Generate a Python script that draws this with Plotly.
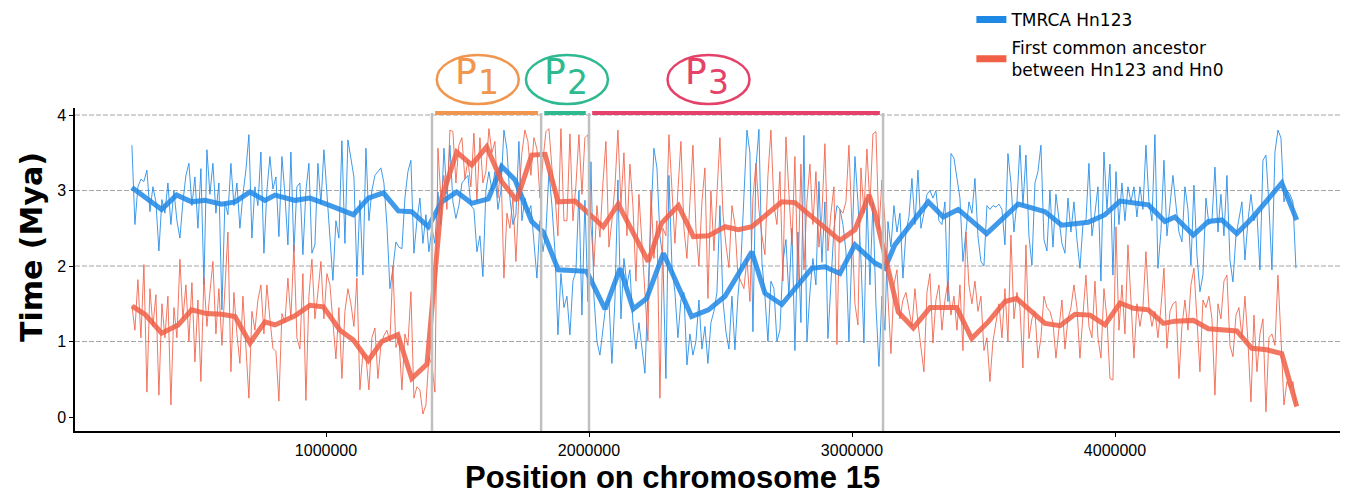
import numpy as np
import plotly.graph_objects as go

# ---------------- data ----------------
WIN_START = 262000
WIN_END = 4688000

blue_seg1 = [3.60, 2.55, 3.05, 3.15, 3.12, 3.27, 2.72, 3.05, 2.85, 2.20, 2.88, 2.70, 3.10, 2.55, 3.00,
             2.60, 2.37, 2.85, 3.20, 3.36, 2.80, 3.18, 2.50, 3.29, 1.75, 3.54, 2.95, 3.36, 2.70, 3.10,
             1.42, 2.85, 2.68, 3.36, 2.80, 3.10, 2.50, 2.95, 3.27, 3.74, 2.37, 3.05, 2.80, 3.51, 2.17,
             3.00, 3.45, 3.02]
blue_seg2 = [3.18, 2.39, 3.45, 2.95, 2.28, 3.51, 2.19, 3.05, 3.10, 2.15, 3.00, 3.36, 2.17, 2.28, 3.36,
             2.82, 3.54, 2.95, 2.32, 1.81, 2.60, 2.37, 3.66, 2.30, 3.67, 3.40, 3.18, 1.86, 2.87, 1.88,
             3.56, 2.60, 3.00, 3.20, 3.25, 3.30, 3.10, 2.55, 1.70, 1.97, 2.32, 2.25, 2.23, 2.90, 3.25,
             3.40, 2.17, 2.60, 2.90, 2.30]
blue_seg3 = [2.68, 2.19, 2.50, 2.30, 2.98, 2.55, 3.56, 2.95, 3.60, 2.85, 2.63, 2.80, 3.10, 3.15, 3.20,
             2.80, 2.75, 2.19, 2.40, 1.86, 3.00, 3.25, 3.00, 3.25, 2.75, 3.00, 3.80, 3.55, 2.90, 2.55,
             2.68, 3.65, 2.60, 2.90, 2.70, 2.80, 2.35, 1.84, 2.60, 2.19, 2.45, 3.25, 2.80, 2.20, 1.09,
             1.90, 1.45, 1.60, 1.09, 1.80]
blue_seg4 = [1.93, 3.00, 1.35, 2.87, 1.53, 3.38, 1.60, 1.00, 0.82, 1.20, 1.50, 1.55, 0.71, 1.55, 3.14,
             1.30, 2.10, 1.75, 1.95, 1.25, 0.90, 1.25, 0.95, 0.58, 1.65, 2.60, 3.56, 3.30, 2.40, 2.10,
             0.51, 3.20, 2.00, 1.65, 1.05, 1.55, 1.65, 0.69, 1.10, 0.82, 1.00, 1.55, 0.90, 1.20, 0.71,
             1.25, 1.40, 1.65, 2.80, 1.55]
blue_seg5 = [1.13, 0.90, 1.60, 0.89, 1.60, 2.05, 2.95, 3.80, 3.50, 1.13, 3.30, 3.81, 2.05, 1.60, 1.00,
             1.80, 1.70, 1.00, 1.15, 2.05, 2.35, 1.60, 2.50, 0.88, 2.45, 1.25, 3.73, 1.00, 1.65, 2.10,
             1.75, 3.12, 2.05, 2.85, 1.04, 1.75, 2.50, 2.80, 2.75, 2.55, 2.20, 1.00, 2.25, 3.45, 2.85,
             2.10, 0.98, 2.90, 1.75, 2.85]
blue_seg6 = [1.48, 0.67, 1.60, 1.15, 2.59, 2.25, 2.80, 2.45, 2.70, 1.84, 2.45, 2.65, 3.16, 2.55, 3.27,
             2.50, 2.70, 2.95, 3.00, 2.90, 3.00, 2.60, 2.55, 2.85, 1.53, 3.49, 3.43, 3.15, 2.90, 2.06,
             2.45, 2.85, 2.70, 3.16, 2.40, 2.06, 2.00, 2.80, 2.75, 2.80, 2.78, 2.82, 2.75, 2.28, 3.49,
             3.10, 2.45, 2.85, 3.60, 2.80]
blue_seg7 = [3.47, 2.40, 2.01, 3.10, 3.25, 3.60, 2.35, 2.20, 3.00, 2.25, 2.95, 2.65, 2.30, 2.17, 2.90,
             2.45, 2.85, 2.35, 1.97, 2.55, 2.60, 3.36, 2.40, 2.70, 3.05, 1.80, 3.51, 2.75, 3.35, 1.88,
             3.25, 2.55, 3.10, 2.60, 3.05, 2.85, 3.05, 2.65, 3.05, 2.75, 3.60, 2.85, 2.60, 3.74, 1.97,
             2.45, 3.40, 2.40, 2.85, 3.20]
blue_seg8 = [2.81, 2.45, 2.32, 3.05, 2.75, 2.01, 3.07, 2.15, 1.66, 1.88, 2.90, 2.55, 2.60, 3.31, 2.45,
             2.95, 2.40, 3.20, 2.08, 1.79, 2.40, 2.60, 2.85, 2.08, 2.60, 2.95, 2.60, 2.70, 1.95, 3.40,
             3.47, 2.80, 1.95, 3.51, 3.80, 3.70, 2.85, 3.00, 2.95, 2.85, 1.97]

red_seg1 = [1.48, 1.15, 1.82, 1.05, 2.02, 0.33, 1.70, 1.20, 1.62, 0.29, 1.50, 1.05, 1.60, 0.16, 1.45,
            1.05, 2.09, 1.30, 1.75, 1.00, 1.78, 0.73, 1.55, 0.47, 1.85, 1.20, 1.65, 2.06, 1.10, 1.70,
            0.95, 1.80, 2.45, 0.60, 1.65, 1.10, 0.71, 1.60, 1.00, 0.25, 1.40, 1.15, 1.55, 1.75, 1.10,
            1.75, 1.30, 0.91]
red_seg2 = [0.87, 0.21, 1.37, 1.25, 1.84, 1.30, 2.28, 1.05, 0.90, 1.90, 0.22, 1.60, 2.09, 1.30, 1.65,
            2.06, 1.30, 1.90, 1.75, 1.20, 0.77, 1.45, 0.51, 1.40, 1.70, 1.50, 1.20, 1.84, 0.36, 0.85,
            0.80, 0.36, 1.05, 1.18, 0.51, 0.95, 1.08, 1.15, 1.00, 2.00, 0.92, 1.05, 0.36, 1.10, 0.95,
            1.66, 0.25, 0.40, 0.36, 0.04]
red_seg3 = [0.16, 0.80, 0.69, 0.33, 3.56, 2.90, 3.20, 2.75, 3.80, 3.78, 3.10, 3.60, 3.70, 3.15, 3.40,
            3.05, 3.76, 2.85, 3.70, 3.10, 3.25, 3.82, 3.50, 3.65, 2.90, 3.35, 1.84, 2.70, 2.50, 2.90,
            2.06, 2.95, 3.50, 3.80, 3.65, 3.20, 3.70, 3.55, 2.90, 3.40, 3.78, 3.82, 3.30, 2.95, 2.40,
            3.82, 2.60, 2.60, 3.75, 2.60]
red_seg4 = [3.07, 3.74, 2.95, 3.70, 3.74, 2.54, 2.00, 2.80, 2.38, 3.10, 3.65, 2.25, 2.60, 3.05, 3.80,
            2.80, 3.50, 2.40, 3.35, 2.80, 1.80, 2.95, 2.30, 1.57, 1.00, 3.00, 2.10, 2.60, 0.25, 2.50,
            2.40, 3.74, 3.00, 2.30, 3.00, 3.65, 2.50, 2.10, 2.85, 3.60, 2.50, 2.00, 2.85, 3.30, 1.57,
            3.00, 2.20, 2.95, 3.70, 2.70]
red_seg5 = [2.28, 1.98, 2.80, 2.55, 1.88, 1.80, 1.70, 2.10, 1.53, 2.90, 3.36, 2.75, 2.40, 2.15, 3.20,
            3.80, 2.80, 2.55, 3.25, 1.80, 3.71, 2.95, 2.28, 3.45, 1.80, 3.35, 1.95, 2.85, 3.35, 2.55,
            3.25, 2.25, 2.70, 3.62, 2.20, 2.70, 3.05, 0.96, 2.75, 2.70, 2.85, 3.60, 2.40, 1.50, 1.22,
            3.30, 2.70, 3.55, 2.80, 3.75]
red_seg6 = [3.78, 2.48, 3.14, 2.60, 1.60, 0.84, 1.75, 1.95, 1.30, 1.55, 1.65, 1.45, 1.20, 1.70, 1.25,
            0.92, 0.60, 1.65, 1.90, 0.98, 1.55, 1.75, 1.15, 1.55, 1.80, 1.35, 1.60, 1.15, 1.75, 0.88,
            2.45, 1.75, 1.50, 1.80, 1.40, 1.60, 0.88, 1.05, 0.47, 1.00, 1.25, 1.50, 1.05, 1.70, 1.00,
            2.41, 1.30, 1.65, 1.45, 0.65]
red_seg7 = [2.28, 1.04, 1.30, 1.40, 0.78, 1.05, 1.60, 1.45, 1.40, 1.25, 0.78, 1.15, 1.55, 0.90, 1.30,
            1.45, 1.75, 1.45, 0.78, 1.35, 1.88, 1.20, 1.05, 1.80, 1.05, 0.78, 1.70, 1.30, 0.51, 0.49,
            2.52, 1.15, 1.75, 1.10, 2.28, 1.55, 0.78, 1.50, 1.20, 1.45, 2.19, 1.45, 1.20, 1.40, 1.05,
            1.45, 1.97, 0.91, 1.40, 1.50]
red_seg8 = [1.53, 0.51, 1.20, 1.55, 1.15, 1.75, 1.97, 1.30, 0.60, 1.55, 1.45, 1.60, 1.30, 0.29, 1.50,
            1.30, 1.80, 1.88, 0.95, 0.80, 1.35, 1.45, 1.05, 1.60, 1.00, 0.20, 1.35, 0.60, 1.10, 1.30,
            0.07, 1.05, 1.10, 0.95, 1.88, 1.05, 0.16, 0.47, 0.38, 0.47, 0.16]

blue_smooth_pos = [262000, 375000, 432000, 489000, 540000, 603000, 654000, 711000, 768000, 806000,
                   882000, 939000, 1009000, 1104000, 1161000, 1218000, 1275000, 1326000, 1389000,
                   1440000, 1497000, 1554000, 1617000, 1668000, 1719000, 1782000, 1826000, 1883000,
                   1991000, 2061000, 2118000, 2168000, 2219000, 2283000, 2390000, 2454000, 2517000,
                   2619000, 2669000, 2733000, 2847000, 2897000, 2954000, 3011000, 3087000, 3125000,
                   3163000, 3290000, 3347000, 3404000, 3512000, 3632000, 3734000, 3797000, 3898000,
                   3962000, 4019000, 4076000, 4127000, 4190000, 4228000, 4298000, 4355000, 4406000,
                   4463000, 4520000, 4634000, 4691000]
blue_smooth_val = [3.04, 2.75, 2.94, 2.85, 2.87, 2.82, 2.85, 2.98, 2.87, 2.94,
                   2.87, 2.90, 2.81, 2.68, 2.90, 2.97, 2.73, 2.72, 2.52,
                   2.85, 2.98, 2.83, 2.89, 3.32, 3.14, 2.59, 2.45, 1.95,
                   1.93, 1.43, 1.97, 1.43, 1.57, 2.17, 1.33, 1.42, 1.60,
                   2.19, 1.64, 1.49, 1.97, 1.99, 1.90, 2.28, 2.04, 1.97,
                   2.28, 2.85, 2.65, 2.75, 2.43, 2.82, 2.72, 2.54, 2.58,
                   2.68, 2.86, 2.84, 2.81, 2.59, 2.65, 2.41, 2.59, 2.61,
                   2.43, 2.63, 3.10, 2.61]

red_smooth_pos = [263000, 312000, 375000, 438000, 489000, 546000, 603000, 654000, 711000, 768000,
                  806000, 882000, 939000, 990000, 1053000, 1104000, 1161000, 1212000, 1273000,
                  1326000, 1384000, 1440000, 1497000, 1554000, 1611000, 1668000, 1725000, 1782000,
                  1833000, 1883000, 1947000, 2054000, 2111000, 2225000, 2276000, 2340000, 2397000,
                  2454000, 2517000, 2568000, 2619000, 2733000, 2783000, 2954000, 3011000, 3065000,
                  3087000, 3176000, 3233000, 3297000, 3398000, 3455000, 3518000, 3582000, 3626000,
                  3734000, 3791000, 3848000, 3905000, 3962000, 4019000, 4070000, 4127000, 4184000,
                  4228000, 4298000, 4355000, 4463000, 4520000, 4577000, 4634000, 4691000]
red_smooth_val = [1.47, 1.36, 1.11, 1.22, 1.42, 1.37, 1.36, 1.33, 0.98, 1.26,
                  1.22, 1.34, 1.48, 1.46, 1.15, 1.02, 0.75, 1.00, 1.09,
                  0.51, 0.70, 2.90, 3.51, 3.34, 3.58, 3.12, 2.87, 3.47,
                  3.48, 2.85, 2.86, 2.52, 2.82, 2.06, 2.57, 2.80, 2.39,
                  2.40, 2.52, 2.48, 2.52, 2.85, 2.84, 2.34, 2.48, 2.94,
                  2.70, 1.39, 1.18, 1.45, 1.45, 1.04, 1.26, 1.53, 1.57,
                  1.24, 1.21, 1.36, 1.35, 1.22, 1.51, 1.44, 1.42, 1.24,
                  1.27, 1.28, 1.17, 1.14, 0.91, 0.89, 0.84, 0.14]

region_bounds = [1403000, 1818000, 2000000, 3118000]
region_names = ["1", "2", "3"]
x_ticks = [1000000, 2000000, 3000000, 4000000]
y_ticks = [0, 1, 2, 3, 4]

# ---------------- styles ----------------
BLUE = "rgb(30,136,229)"
RED = "rgb(240,95,70)"
REGION_COLORS = ["rgb(240,150,78)", "rgb(46,185,145)", "rgb(229,66,106)"]
GRAY_V = "rgb(192,192,192)"

blue_noisy = blue_seg1 + blue_seg2 + blue_seg3 + blue_seg4 + blue_seg5 + blue_seg6 + blue_seg7 + blue_seg8
red_noisy = red_seg1 + red_seg2 + red_seg3 + red_seg4 + red_seg5 + red_seg6 + red_seg7 + red_seg8
pos_blue = np.linspace(WIN_START, WIN_END, len(blue_noisy))
pos_red = np.linspace(WIN_START, WIN_END, len(red_noisy))

fig = go.Figure()
fig.add_trace(go.Scatter(x=pos_blue, y=blue_noisy, mode="lines", showlegend=False,
                         line=dict(color="rgba(30,136,229,0.85)", width=1)))
fig.add_trace(go.Scatter(x=pos_red, y=red_noisy, mode="lines", showlegend=False,
                         line=dict(color="rgba(240,95,70,0.85)", width=1)))
fig.add_trace(go.Scatter(x=blue_smooth_pos, y=blue_smooth_val, mode="lines", showlegend=False,
                         line=dict(color="rgba(30,136,229,0.85)", width=5)))
fig.add_trace(go.Scatter(x=red_smooth_pos, y=red_smooth_val, mode="lines", showlegend=False,
                         line=dict(color="rgba(240,95,70,0.85)", width=5)))
# legend entries
fig.add_trace(go.Scatter(x=[None], y=[None], mode="lines", name="TMRCA Hn123",
                         legendgroup="a", line=dict(color=BLUE, width=7)))
fig.add_trace(go.Scatter(x=[None], y=[None], mode="lines",
                         name="First common ancestor<br>between Hn123 and Hn0",
                         legendgroup="b", line=dict(color=RED, width=7)))

shapes = []
# dashed horizontal gridlines (not at 0)
for yv in y_ticks[1:]:
    shapes.append(dict(type="line", xref="paper", yref="y", x0=0, x1=1, y0=yv, y1=yv,
                       line=dict(color="rgb(165,165,165)", width=1, dash="5px,2px"), layer="below"))
# vertical region borders
BAR_Y = 0.9845
for b in region_bounds:
    shapes.append(dict(type="line", xref="x", yref="paper", x0=b, x1=b, y0=0, y1=BAR_Y,
                       line=dict(color=GRAY_V, width=2.5)))
# colored bars on top
gap = 12000
for i in range(3):
    shapes.append(dict(type="line", xref="x", yref="paper",
                       x0=region_bounds[i] + gap, x1=region_bounds[i + 1] - gap, y0=BAR_Y, y1=BAR_Y,
                       line=dict(color=REGION_COLORS[i], width=4)))

# ellipses and labels (paper coords)
ell_cx = [0.3184, 0.3889, 0.5008]
ell_hw = 0.0324
ell_y0, ell_y1 = 1.0124, 1.164
annotations = []
for i in range(3):
    shapes.append(dict(type="circle", xref="paper", yref="paper",
                       x0=ell_cx[i] - ell_hw, x1=ell_cx[i] + ell_hw, y0=ell_y0, y1=ell_y1,
                       line=dict(color=REGION_COLORS[i], width=2.5)))
    annotations.append(dict(xref="paper", yref="paper", x=ell_cx[i] - 0.0095, y=1.1115,
                            text="P", showarrow=False, xanchor="center", yanchor="middle",
                            font=dict(family="DejaVu Sans", size=36, color=REGION_COLORS[i])))
    annotations.append(dict(xref="paper", yref="paper", x=ell_cx[i] + 0.0081, y=1.079,
                            text=region_names[i], showarrow=False, xanchor="center", yanchor="middle",
                            font=dict(family="DejaVu Sans", size=33, color=REGION_COLORS[i])))

annotations.append(dict(xref="paper", yref="paper", x=0.4727, y=-0.1455,
                        text="<b>Position on chromosome 15</b>", showarrow=False,
                        xanchor="center", yanchor="middle",
                        font=dict(family="Liberation Sans", size=31, color="black")))
annotations.append(dict(xref="paper", yref="paper", x=-0.034, y=0.5697, textangle=-90,
                        text="<b>Time (Mya)</b>", showarrow=False,
                        xanchor="center", yanchor="middle",
                        font=dict(family="DejaVu Sans", size=30, color="black")))

fig.update_layout(
    width=1362, height=495,
    margin=dict(l=75, r=22, t=108, b=64, autoexpand=False),
    plot_bgcolor="white", paper_bgcolor="white",
    shapes=shapes, annotations=annotations,
    showlegend=True,
    legend=dict(x=0.7086, y=1.328, xanchor="left", yanchor="top",
                font=dict(family="DejaVu Sans", size=17, color="black"),
                bgcolor="rgba(0,0,0,0)", tracegroupgap=3),
    xaxis=dict(range=[45600, 4855500], tickvals=x_ticks, ticktext=[str(v) for v in x_ticks],
               showgrid=False, zeroline=False, showline=True, linecolor="black", linewidth=1.5,
               ticks="outside", ticklen=4, tickcolor="black",
               tickfont=dict(family="Liberation Sans", size=16, color="black")),
    yaxis=dict(range=[-0.185, 4.093], tickvals=y_ticks, showgrid=False, zeroline=False,
               showline=True, linecolor="black", linewidth=1.5,
               ticks="outside", ticklen=4, tickcolor="black",
               tickfont=dict(family="Liberation Sans", size=16, color="black")),
)

fig.write_html("out.html", config={"displayModeBar": False},
               post_script="document.body.style.margin='0';document.body.style.overflow='hidden';")
